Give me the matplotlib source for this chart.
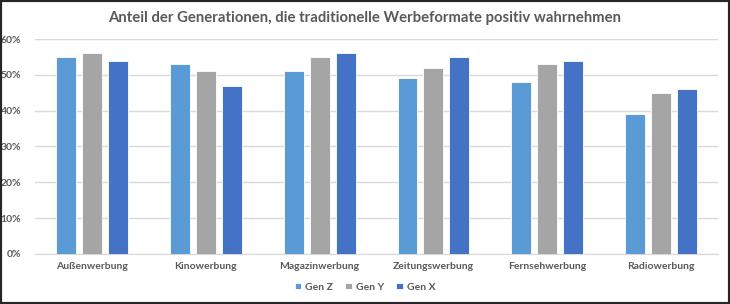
import numpy as np
import matplotlib.pyplot as plt
from matplotlib.patches import Rectangle
from matplotlib.ticker import PercentFormatter

categories = ['Außenwerbung', 'Kinowerbung', 'Magazinwerbung', 'Zeitungswerbung',
              'Fernsehwerbung', 'Radiowerbung']
gen_z = [55, 53, 51, 49, 48, 39]
gen_y = [56, 51, 55, 52, 53, 45]
gen_x = [54, 47, 56, 55, 54, 46]
series_names = ['Gen Z', 'Gen Y', 'Gen X']
colors = ['#5B9BD5', '#A5A5A5', '#4472C4']

text_color = '#595959'
plt.rcParams['font.family'] = ['Lato', 'DejaVu Sans']

fig = plt.figure(figsize=(7.30, 3.04), dpi=100)
ax = fig.add_axes([0.048, 0.1645, 0.9356, 0.7072])

x = np.arange(len(categories))
width = 0.175
step = 0.228
for i, (vals, name, c) in enumerate(zip([gen_z, gen_y, gen_x], series_names, colors)):
    ax.bar(x + (i - 1) * step, vals, width, color=c, label=name,
           edgecolor='white', linewidth=0.6, zorder=3)

ax.set_xlim(-0.5, len(categories) - 0.5)
ax.set_ylim(0, 60)
ax.set_yticks(range(0, 61, 10))
ax.yaxis.set_major_formatter(PercentFormatter(decimals=0))
ax.set_xticks(x)
ax.set_xticklabels(categories)
ax.grid(axis='y', color='#D9D9D9', linewidth=1, zorder=0)
for s in ['top', 'right', 'left']:
    ax.spines[s].set_visible(False)
ax.spines['bottom'].set_color('#D9D9D9')
ax.tick_params(axis='both', length=0, colors=text_color, labelsize=7.5)
ax.tick_params(axis='x', pad=6)
ax.tick_params(axis='y', pad=10)
for lab in ax.get_xticklabels() + ax.get_yticklabels():
    lab.set_fontweight('bold')

fig.suptitle('Anteil der Generationen, die traditionelle Werbeformate positiv wahrnehmen',
             x=0.5, y=0.965, fontsize=10.7, fontweight='bold', color=text_color)

leg = fig.legend(loc='center', bbox_to_anchor=(0.5, 0.055), ncol=3, frameon=False,
                 handlelength=0.6, handleheight=0.6, handletextpad=0.4, columnspacing=1.2,
                 prop={'size': 7.5, 'weight': 'bold'})
for t in leg.get_texts():
    t.set_color(text_color)

fig.patches.append(Rectangle((0, 0), 1, 1, transform=fig.transFigure, fill=False,
                             edgecolor='#262626', linewidth=3, zorder=10))

fig.savefig('out.png', dpi=100)
